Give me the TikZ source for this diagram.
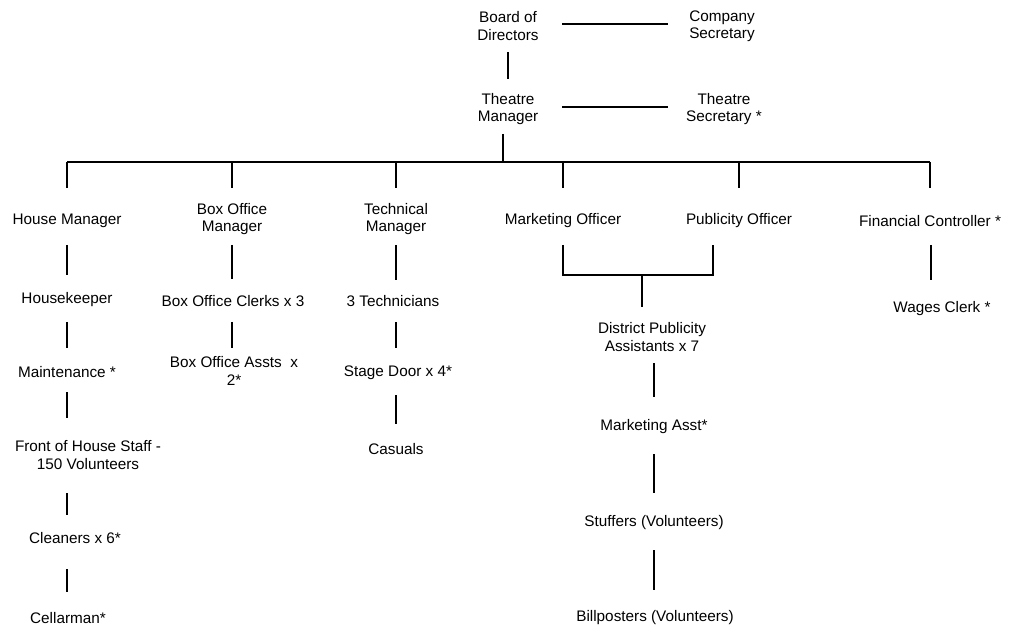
\documentclass[tikz,border=0pt]{standalone}
\usepackage{fontspec}
\setmainfont{Liberation Sans}
\usetikzlibrary{calc}
\begin{document}
\begin{tikzpicture}[x=1pt,y=-1pt,
  lbl/.style={inner sep=0pt,align=center,font=\fontsize{15.3}{17.2}\selectfont},
  con/.style={line width=1.7pt,black}]
\useasboundingbox (0,0) rectangle (1012,628);
% nodes
\node[lbl] (bod) at (508,26) {Board of\\Directors};
\node[lbl] (cs) at (722,26) {Company\\Secretary};
\node[lbl] (tm) at (508,109) {Theatre\\Manager};
\node[lbl] (ts) at (724,109) {Theatre\\Secretary *};
\node[lbl] (hm) at (67,221) {House Manager};
\node[lbl] (bom) at (232,219) {Box Office\\Manager};
\node[lbl] (tech) at (396,219) {Technical\\Manager};
\node[lbl] (mo) at (563,221) {Marketing Officer};
\node[lbl] (po) at (739,221) {Publicity Officer};
\node[lbl] (fc) at (930,221) {Financial Controller *};
\node[lbl] (hk) at (67,300) {Housekeeper};
\node[lbl] (boc) at (233,301) {Box Office Clerks x 3};
\node[lbl] (t3) at (393,301) {3 Technicians};
\node[lbl] (wc) at (942,309) {Wages Clerk *};
\node[lbl] (dpa) at (652,337) {District Publicity\\Assistants x 7};
\node[lbl] (maint) at (67,372) {Maintenance *};
\node[lbl] (boa) at (234,371) {Box Office Assts\ \ x\\2*};
\node[lbl] (sd) at (398,373) {Stage Door x 4*};
\node[lbl] (fohs) at (88,455) {Front of House Staff -\\150 Volunteers};
\node[lbl] (cas) at (396,449) {Casuals};
\node[lbl] (ma) at (654,427) {Marketing Asst*};
\node[lbl] (cl) at (75,538) {Cleaners x 6*};
\node[lbl] (st) at (654,523) {Stuffers (Volunteers)};
\node[lbl] (cel) at (68,618) {Cellarman*};
\node[lbl] (bp) at (655,618) {Billposters (Volunteers)};
% junction coordinates
\coordinate (bus) at (503,162);
\coordinate (pj) at (713,275);
\coordinate (mpj) at (642,275);
% top connectors
\draw[con] ($(bod)+(54,-2)$) -- ($(cs)+(-54,-2)$);
\draw[con] ($(tm)+(54,-2)$) -- ($(ts)+(-56,-2)$);
\draw[con] ($(bod)+(0,26)$) -- ($(tm)+(0,-30)$);
\draw[con] ($(tm)+(-5,25)$) -- (bus);
\draw[con] (hm |- bus) -- (fc |- bus);
\foreach \n in {hm,bom,tech,mo,po,fc}{
  \draw[con] (\n |- bus) -- ($(\n |- hm)+(0,-33)$);
}
% house manager column
\draw[con] ($(hm)+(0,24)$) -- ($(hk)+(0,-25)$);
\draw[con] ($(hk)+(0,22)$) -- ($(maint)+(0,-24)$);
\draw[con] ($(maint)+(0,20)$) -- ($(hm |- fohs)+(0,-37)$);
\draw[con] ($(hm |- fohs)+(0,38)$) -- ($(hm |- cl)+(0,-23)$);
\draw[con] ($(hm |- cl)+(0,31)$) -- ($(hm |- cel)+(0,-26)$);
% box office column
\draw[con] ($(bom)+(0,26)$) -- ($(bom |- boc)+(0,-22)$);
\draw[con] ($(bom |- boc)+(0,21)$) -- ($(bom |- boa)+(0,-23)$);
% technical column
\draw[con] ($(tech)+(0,26)$) -- ($(tech |- t3)+(0,-21)$);
\draw[con] ($(tech |- t3)+(0,21)$) -- ($(tech |- sd)+(0,-25)$);
\draw[con] ($(tech |- sd)+(0,22)$) -- ($(cas)+(0,-25)$);
% marketing / publicity
\draw[con] ($(mo)+(0,24)$) -- (mo |- pj) -- (pj) -- ($(pj)+(0,-30)$);
\draw[con] (mpj) -- ($(mpj |- dpa)+(0,-30)$);
\draw[con] ($(ma |- dpa)+(0,26)$) -- ($(ma)+(0,-30)$);
\draw[con] ($(ma)+(0,27)$) -- ($(st)+(0,-30)$);
\draw[con] ($(st)+(0,27)$) -- ($(st |- bp)+(0,-28)$);
% financial
\draw[con] ($(fc)+(1,24)$) -- ($(fc |- wc)+(1,-29)$);
\end{tikzpicture}
\end{document}
